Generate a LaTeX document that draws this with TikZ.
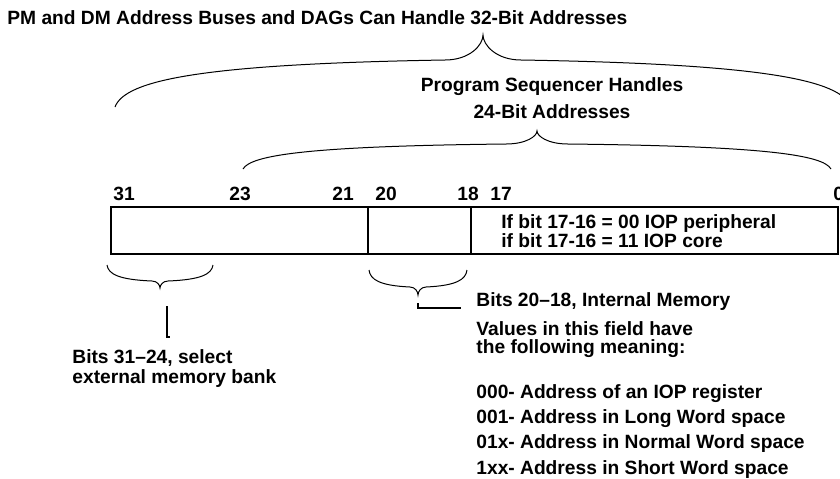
\documentclass[tikz,border=0pt]{standalone}
\usepackage{fontspec}
\setmainfont{Liberation Sans}
\usetikzlibrary{positioning, calc}

% symmetric curly brace: left x, right x, end y, arm y, tip y, hook half width
\newcommand{\fieldbrace}[6]{%
  \draw[brace line] (#1,#3)
    .. controls ({#1+0.03*((#2-#1)/2-#6)},{#4+0.43*(#3-#4)}) and ({#1+0.26*((#2-#1)/2-#6)},{#4+0.085*(#3-#4)}) .. ({(#1+#2)/2-#6},#4)
    .. controls ({(#1+#2)/2-0.35*#6},#4) and ({(#1+#2)/2},{#4-0.6*(#4-#5)}) .. ({(#1+#2)/2},#5)
    .. controls ({(#1+#2)/2},{#4-0.6*(#4-#5)}) and ({(#1+#2)/2+0.35*#6},#4) .. ({(#1+#2)/2+#6},#4)
    .. controls ({#2-0.26*((#2-#1)/2-#6)},{#4+0.085*(#3-#4)}) and ({#2-0.03*((#2-#1)/2-#6)},{#4+0.43*(#3-#4)}) .. (#2,#3);
}

\begin{document}
\begin{tikzpicture}[x=0.5pt, y=-0.5pt,
    lbl/.style={anchor=base west, inner sep=0pt, font=\fontsize{9.6}{11.5}\selectfont\bfseries},
    reg/.style={line width=0.8pt},
    brace line/.style={line width=0.5pt},
    leader/.style={line width=0.8pt}]
  \useasboundingbox (0,0) rectangle (840,478);
  \clip (0,0) rectangle (840,478);

  % headings (multi-line nodes sit on their last line)
  \node[lbl] (title) at (7,24) {PM and DM Address Buses and DAGs Can Handle 32-Bit Addresses};
  \node[lbl, anchor=base, align=center, font=\fontsize{9.6}{13.35}\selectfont\bfseries] (seq) at (552,118) {Program Sequencer Handles\\24-Bit Addresses};

  % braces over the address word
  \fieldbrace{115}{851}{107}{60}{35}{38}
  \fieldbrace{243}{831}{169}{144}{131}{31}

  % bit numbers
  \foreach \b/\x in {31/113, 23/229, 21/332, 20/375, 18/457, 17/490, 0/833}
    \node[lbl] (bit\b) at (\x,200) {\b};

  % address word
  \coordinate (regNW) at (111,207);
  \coordinate (regSE) at (838,254);
  \draw[reg] (regNW) rectangle (regSE);
  \draw[reg] (368,207) -- (368,254);
  \draw[reg] (471,207) -- (471,254);
  \node[lbl, align=left, font=\fontsize{9.6}{9.5}\selectfont\bfseries] (iop) at (501,247) {If bit 17-16 = 00 IOP peripheral\\if bit 17-16 = 11 IOP core};

  % field braces and leaders
  \fieldbrace{107}{213}{265}{281}{288}{8}
  \fieldbrace{369}{467}{270}{287}{295}{8}
  \coordinate (extTop) at (167,306);
  \coordinate (extBot) at (167,337);
  \draw[leader] (extTop) -- (extBot) -- ++(3,0);
  \coordinate (intTop) at (418,303);
  \coordinate (intEnd) at (461,308);
  \draw[leader] (intTop) |- (intEnd);

  % field descriptions
  \node[lbl, align=left, font=\fontsize{9.6}{10}\selectfont\bfseries] (ext) at (72,383) {Bits 31–24, select\\external memory bank};
  \node[lbl] (intmem) at (476,306) {Bits 20–18, Internal Memory};
  \node[lbl, align=left, font=\fontsize{9.6}{9}\selectfont\bfseries] (values) at (476,353) {Values in this field have\\the following meaning:};
  \node[lbl, align=left, font=\fontsize{9.6}{12.65}\selectfont\bfseries] (codes) at (476,474) {000- Address of an IOP register\\001- Address in Long Word space\\01x- Address in Normal Word space\\1xx- Address in Short Word space};
\end{tikzpicture}
\end{document}
